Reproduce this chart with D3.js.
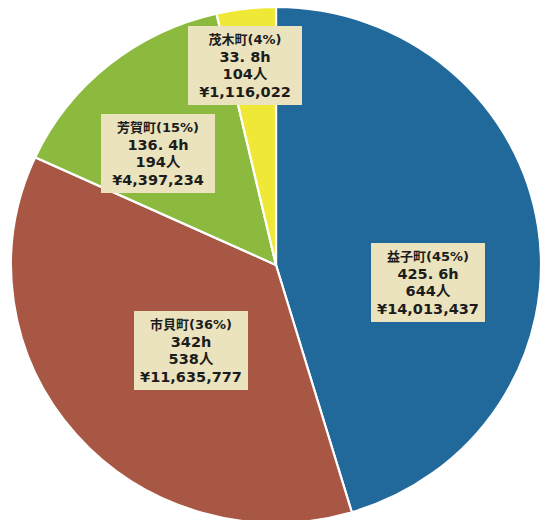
<!DOCTYPE html>
<html><head><meta charset="utf-8">
<script src="https://cdn.jsdelivr.net/npm/d3@7"></script>
<style>body{margin:0;background:#fff}svg{display:block}</style>
</head><body>
<svg id="c" width="541" height="520"></svg>
<script>
const towns = ["益子町", "市貝町", "芳賀町", "茂木町"];
const hours = [425.6, 342, 136.4, 33.8];
const hourLabels = ["425. 6h", "342h", "136. 4h", "33. 8h"];
const people = [644, 538, 194, 104];
const yen = ["14,013,437", "11,635,777", "4,397,234", "1,116,022"];

const colors = ["#20699a", "#a85744", "#8cba3e", "#f0e836"];
// label box centres (layout)
const labelPos = [[428, 282], [191, 350], [158, 153], [245, 65]];

const svg = d3.select("#c");
const cx = 276, cy = 265, rx = 265, ry = 258;
const total = d3.sum(hours);
const data = towns.map((t, i) => ({t, h: hours[i], i}));
const pie = d3.pie().sort(null).value(d => d.h);
const arc = d3.arc().innerRadius(0).outerRadius(rx);

const g = svg.append("g").attr("transform", `translate(${cx},${cy}) scale(1,${ry / rx})`);
g.selectAll("path").data(pie(data)).join("path")
  .attr("d", arc)
  .attr("fill", d => colors[d.data.i])
  .attr("stroke", "#fff")
  .attr("stroke-width", 2.2)
  .attr("vector-effect", "non-scaling-stroke");

const lg = svg.append("g");
data.forEach((d, i) => {
  const pct = Math.round(d.h / total * 100);
  const lines = [`${d.t}(${pct}%)`, hourLabels[i], `${people[i]}人`, `¥${yen[i]}`];
  const box = lg.append("g").attr("transform", `translate(${labelPos[i][0]},${labelPos[i][1]})`);
  const rect = box.append("rect").attr("fill", "#ebe3bd");
  const widths = [];
  lines.forEach((l, k) => {
    const t = box.append("text")
      .attr("text-anchor", "middle")
      .attr("font-family", "'DejaVu Sans', 'Noto Sans CJK JP', sans-serif")
      .attr("font-weight", "bold")
      .attr("font-size", k === 0 ? 13 : 14.5)
      .attr("fill", "#1c1c1c")
      .attr("x", 0).attr("y", -21 + k * 17.7)
      .text(l);
    widths.push(t.node().getComputedTextLength());
  });
  const w = Math.max(d3.max(widths) + 12, 114);
  rect.attr("x", -w / 2).attr("y", -39).attr("width", w).attr("height", 79);
});
</script>
</body></html>
